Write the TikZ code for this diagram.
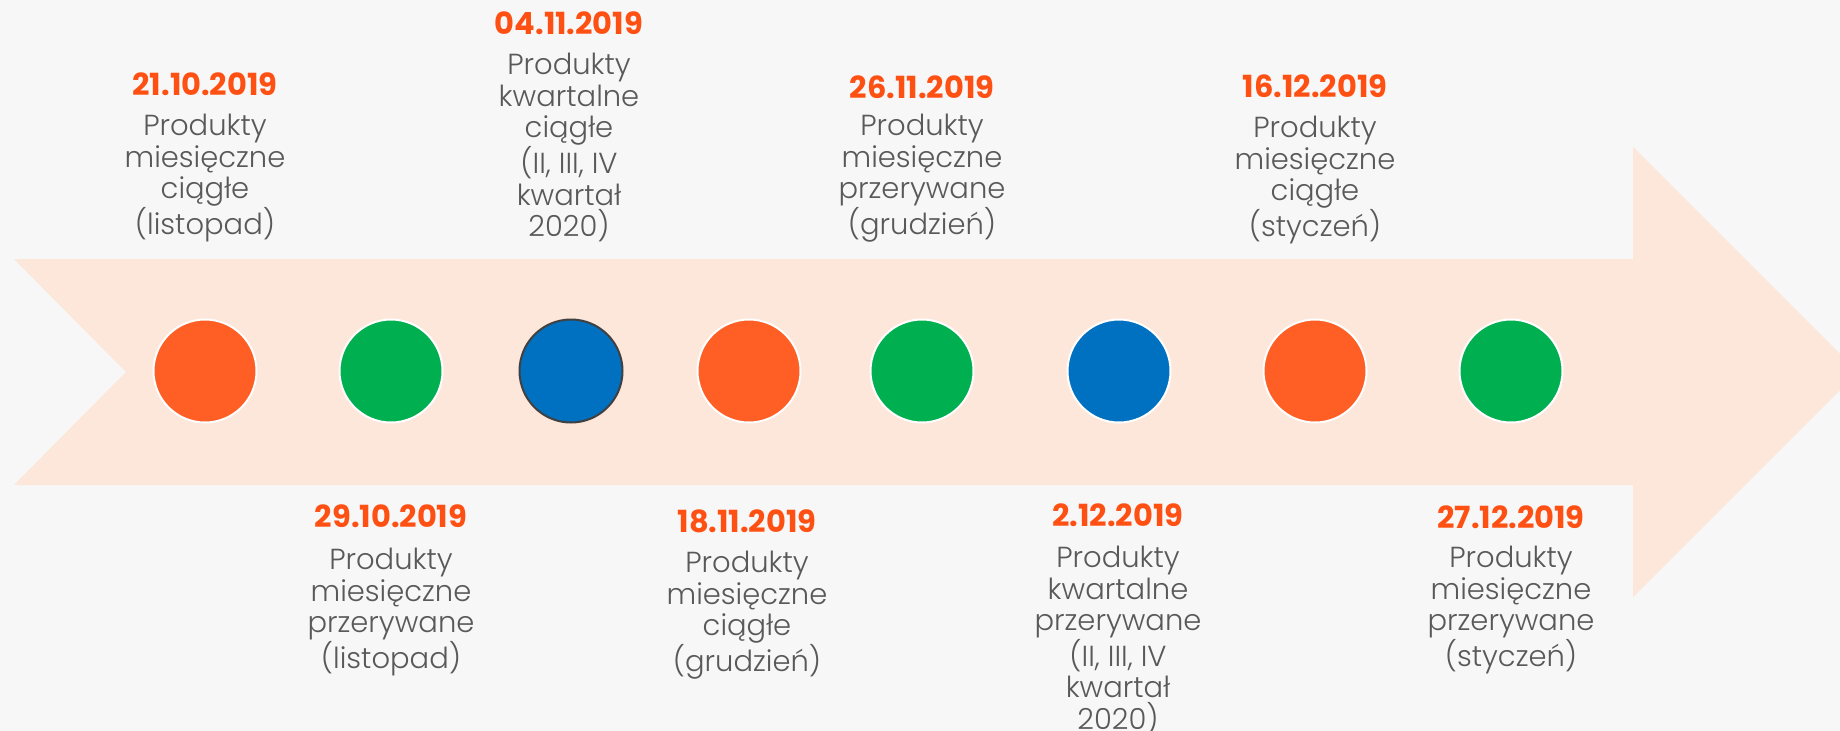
\documentclass[tikz,border=0pt]{standalone}
\usepackage{fontspec}
\setmainfont{Poppins}
\IfFontExistsTF{Poppins Light}{\newfontfamily\bodyfont{Poppins Light}}{\newfontfamily\bodyfont{Poppins}}
\newfontfamily\datefont{Poppins}
\definecolor{bgcol}{HTML}{F7F7F7}
\definecolor{arrowcol}{HTML}{FDE6DA}
\definecolor{dotorange}{HTML}{FF5F24}
\definecolor{dotgreen}{HTML}{00B050}
\definecolor{dotblue}{HTML}{0070C0}
\definecolor{dateorange}{HTML}{FF5014}
\definecolor{textgray}{HTML}{595959}
\definecolor{ringgray}{HTML}{404040}
\tikzset{
  dot/.style={circle, minimum size=103pt, inner sep=0pt, line width=2pt, draw=white},
  datelbl/.style={font=\datefont\bfseries\fontsize{30.5}{32}\selectfont, text=dateorange, inner sep=0pt},
  bodylbl/.style={font=\bodyfont\fontsize{29}{31.5}\selectfont, text=textgray, align=center, inner sep=0pt, anchor=north},
}
\begin{document}
\begin{tikzpicture}[x=1pt,y=-1pt]
\useasboundingbox (0,0) rectangle (1840,731);
\fill[bgcol] (0,0) rectangle (1840,731);
\begin{scope}
\clip (0,0) rectangle (1840,731);
\fill[arrowcol] (14,259) -- (1633,259) -- (1633,147) -- (1858,372) -- (1633,597) -- (1633,485) -- (14,485) -- (126,372) -- cycle;
\end{scope}
% circles
\node[dot, fill=dotorange] (c1) at (205,371) {};
\node[dot, fill=dotgreen]  (c2) at (391,371) {};
\node[dot, fill=dotblue, draw=ringgray] (c3) at (571,371) {};
\node[dot, fill=dotorange] (c4) at (749,371) {};
\node[dot, fill=dotgreen]  (c5) at (922,371) {};
\node[dot, fill=dotblue]   (c6) at (1119,371) {};
\node[dot, fill=dotorange] (c7) at (1315,371) {};
\node[dot, fill=dotgreen]  (c8) at (1511,371) {};
% top labels
\node[datelbl] (d1) at (205,84) {21.10.2019};
\node[bodylbl] (t1) at (205,114) {Produkty\\miesięczne\\ciągłe\\(listopad)};
\node[datelbl] (d3) at (569,23) {04.11.2019};
\node[bodylbl] (t3) at (569,53) {Produkty\\kwartalne\\ciągłe\\(II, III, IV\\kwartał\\2020)};
\node[datelbl] (d5) at (922,87) {26.11.2019};
\node[bodylbl] (t5) at (922,114) {Produkty\\miesięczne\\przerywane\\(grudzień)};
\node[datelbl] (d7) at (1315,86) {16.12.2019};
\node[bodylbl] (t7) at (1315,116) {Produkty\\miesięczne\\ciągłe\\(styczeń)};
% bottom labels
\node[datelbl] (d2) at (391,516) {29.10.2019};
\node[bodylbl] (t2) at (391,548) {Produkty\\miesięczne\\przerywane\\(listopad)};
\node[datelbl] (d4) at (747,521) {18.11.2019};
\node[bodylbl] (t4) at (747,551) {Produkty\\miesięczne\\ciągłe\\(grudzień)};
\node[datelbl] (d6) at (1118,515) {2.12.2019};
\node[bodylbl] (t6) at (1118,546) {Produkty\\kwartalne\\przerywane\\(II, III, IV\\kwartał\\2020)};
\node[datelbl] (d8) at (1511,517) {27.12.2019};
\node[bodylbl] (t8) at (1511,546) {Produkty\\miesięczne\\przerywane\\(styczeń)};
\end{tikzpicture}
\end{document}
